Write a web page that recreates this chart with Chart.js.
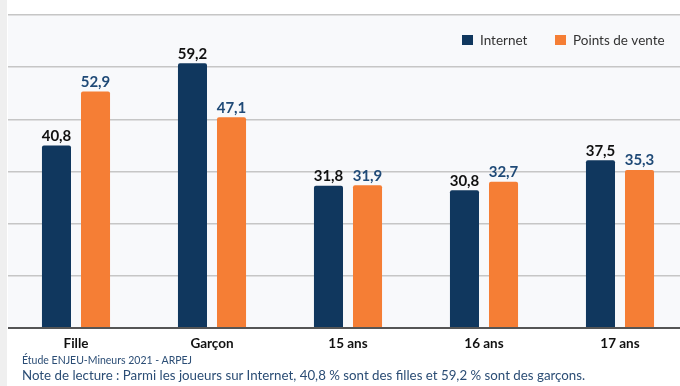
<!DOCTYPE html>
<html lang="fr">
<head>
<meta charset="utf-8">
<title>Achats de jeux : Internet et points de vente</title>
<script src="https://cdn.jsdelivr.net/npm/chart.js@4.4.1/dist/chart.umd.min.js"></script>
<style>
  html, body { margin: 0; padding: 0; background: #fff; overflow: hidden; }
  body { width: 680px; height: 386px; position: relative; font-family: Lato, "Open Sans", sans-serif; }
  .side { position: absolute; left: 0; top: 0; width: 7px; height: 386px; background: #efefef; }
  .wrap { position: absolute; left: 8px; top: 0; width: 680px; height: 360px; }
  .source { position: absolute; left: 22px; top: 354px; font-size: 10.5px; color: #2b4d75; }
  .note { position: absolute; left: 22px; top: 367px; font-size: 13.3px; color: #2b4d75; }
</style>
</head>
<body>
<div class="side"></div>
<div class="wrap"><canvas id="chart"></canvas></div>
<div class="source">Étude ENJEU-Mineurs 2021 - ARPEJ</div>
<div class="note">Note de lecture : Parmi les joueurs sur Internet, 40,8 % sont des filles et 59,2 % sont des garçons.</div>

<script>
const categories = ['Fille', 'Garçon', '15 ans', '16 ans', '17 ans'];
const internet = [40.8, 59.2, 31.8, 30.8, 37.5];
const pointsDeVente = [52.9, 47.1, 31.9, 32.7, 35.3];

const NAVY = '#10375e';
const ORANGE = '#f57e35';
const FONT = 'Lato, "Open Sans", sans-serif';

const fmt = v => v.toFixed(1).replace('.', ',');

// light panel behind the plot
const panelBg = {
  id: 'panelBg',
  beforeDraw(chart) {
    const { ctx, chartArea: a } = chart;
    ctx.save();
    ctx.fillStyle = '#f8f9fb';
    ctx.fillRect(a.left, a.top, a.right - a.left, a.bottom - a.top);
    ctx.restore();
  }
};

// value above each bar
const barValues = {
  id: 'barValues',
  afterDatasetsDraw(chart) {
    const { ctx } = chart;
    ctx.save();
    ctx.font = 'bold 15px ' + FONT;
    ctx.textAlign = 'center';
    ctx.textBaseline = 'bottom';
    chart.data.datasets.forEach((ds, i) => {
      ctx.fillStyle = ds.labelColor;
      chart.getDatasetMeta(i).data.forEach((bar, j) => {
        ctx.fillText(fmt(ds.data[j]), bar.x, bar.y - 2);
      });
    });
    ctx.restore();
  }
};

// legend drawn inside the panel, top right
const insideLegend = {
  id: 'insideLegend',
  afterDraw(chart) {
    const { ctx } = chart;
    ctx.save();
    ctx.font = '13.5px ' + FONT;
    ctx.textBaseline = 'middle';
    const y = 40;
    const starts = [454, 547];
    chart.data.datasets.forEach((ds, i) => {
      const x = starts[i];
      ctx.fillStyle = ds.backgroundColor;
      ctx.fillRect(x, y - 5, 11, 10);
      ctx.fillStyle = '#333';
      ctx.fillText(ds.label, x + 18, y + 1);
    });
    ctx.restore();
  }
};

new Chart(document.getElementById('chart'), {
  type: 'bar',
  data: {
    labels: categories,
    datasets: [
      { label: 'Internet', data: internet, backgroundColor: NAVY, labelColor: '#111111',
        borderRadius: { topLeft: 2, topRight: 2 }, borderSkipped: 'bottom' },
      { label: 'Points de vente', data: pointsDeVente, backgroundColor: ORANGE, labelColor: '#1f4a77',
        borderRadius: { topLeft: 2, topRight: 2 }, borderSkipped: 'bottom' }
    ]
  },
  options: {
    responsive: true,
    maintainAspectRatio: false,
    animation: false,
    layout: { padding: { top: 15, left: 0, right: 0, bottom: 0 } },
    datasets: { bar: { categoryPercentage: 0.574, barPercentage: 0.744 } },
    plugins: { legend: { display: false }, tooltip: { enabled: false } },
    scales: {
      x: {
        grid: { display: false, drawTicks: false },
        border: { display: true, color: '#555', width: 2 },
        ticks: { color: '#111', padding: 8, font: { family: FONT, size: 13.5, weight: 'bold' } }
      },
      y: {
        min: 0,
        max: 70,
        ticks: { display: false, count: 7 },
        grid: { color: '#c6c6c6', lineWidth: 1.5, drawTicks: false },
        border: { display: false }
      }
    }
  },
  plugins: [panelBg, barValues, insideLegend]
});
</script>
</body>
</html>
